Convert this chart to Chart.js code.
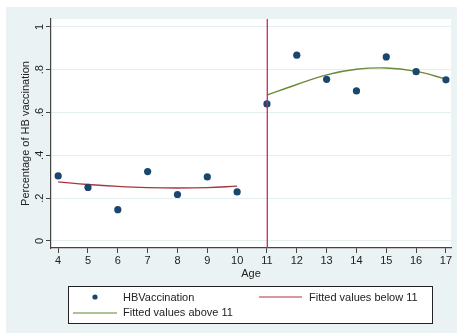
<!DOCTYPE html>
<html>
<head>
<meta charset="utf-8">
<script src="https://cdn.jsdelivr.net/npm/chart.js@4"></script>
<style>
  html, body { margin: 0; padding: 0; background: #ffffff; }
  #wrap { width: 457px; height: 333px; }
</style>
</head>
<body>
<div id="wrap"><canvas id="hbChart" width="457" height="333"></canvas></div>
<script>
// ---------------- DATA ----------------
const ages = [4, 5, 6, 7, 8, 9, 10, 11, 12, 13, 14, 15, 16, 17];
const hbVaccination = [0.304, 0.250, 0.146, 0.324, 0.217, 0.299, 0.229,
                       0.640, 0.868, 0.755, 0.701, 0.860, 0.791, 0.753];
const agesBelow = [4, 5, 6, 7, 8, 9, 10];
const fittedBelow = [0.276, 0.264, 0.255, 0.249, 0.247, 0.249, 0.256];
const agesAbove = [11, 12, 13, 14, 15, 16, 17];
const fittedAbove = [0.682, 0.731, 0.776, 0.802, 0.808, 0.792, 0.757];
const cutoff = 11;
const yTicks = [0, 0.2, 0.4, 0.6, 0.8, 1];
const yTickLabels = ["0", ".2", ".4", ".6", ".8", "1"];

const FONT = "'Liberation Sans', Arial, sans-serif";
const NAVY = "#1a476f";
const MAROON = "#a8363f";
const GREEN = "#6a8c3a";
const XLINE = "#d0285a";
const BG = "#eaf2f3";

const pts = (xs, ys) => xs.map((x, i) => ({ x: x, y: ys[i] }));

// ---------------- PLUGINS ----------------
const background = {
    id: "background",
    beforeDraw(chart) {
        const { ctx, chartArea: a } = chart;
        ctx.save();
        ctx.fillStyle = "#ffffff";
        ctx.fillRect(0, 0, chart.width, chart.height);
        ctx.fillStyle = BG;
        ctx.fillRect(6, 7, chart.width - 6, chart.height - 7);
        ctx.fillStyle = "#ffffff";
        ctx.fillRect(a.left, a.top, a.right - a.left, a.bottom - a.top);
        ctx.restore();
    }
};

// vertical line at the cutoff age
const cutoffLine = {
    id: "cutoffLine",
    afterDatasetsDraw(chart) {
        const { ctx, chartArea: a, scales } = chart;
        const x = Math.round(scales.x.getPixelForValue(cutoff)) + 0.3;
        ctx.save();
        ctx.strokeStyle = XLINE;
        ctx.lineWidth = 1.3;
        ctx.beginPath();
        ctx.moveTo(x, a.top);
        ctx.lineTo(x, a.bottom);
        ctx.stroke();
        ctx.restore();
    }
};

// y tick labels, turned sideways
const yLabels = {
    id: "yLabels",
    afterDraw(chart) {
        const { ctx, scales } = chart;
        ctx.save();
        ctx.fillStyle = "#222";
        ctx.font = "11px " + FONT;
        ctx.textAlign = "center";
        ctx.textBaseline = "middle";
        yTicks.forEach((v, i) => {
            const y = scales.y.getPixelForValue(v);
            ctx.save();
            ctx.translate(40, y);
            ctx.rotate(-Math.PI / 2);
            ctx.fillText(yTickLabels[i], 0, 0);
            ctx.restore();
        });
        ctx.restore();
    }
};

// boxed legend, two columns
const boxLegend = {
    id: "boxLegend",
    afterDraw(chart) {
        const { ctx } = chart;
        const ds = chart.data.datasets;
        ctx.save();
        ctx.fillStyle = "#ffffff";
        ctx.fillRect(68, 286, 364, 37);
        ctx.strokeStyle = "#222";
        ctx.lineWidth = 1;
        ctx.strokeRect(68.5, 286.5, 364, 37);
        ctx.font = "11px " + FONT;
        ctx.textBaseline = "middle";

        // scatter entry
        ctx.fillStyle = NAVY;
        ctx.beginPath();
        ctx.arc(95, 297, 2.6, 0, Math.PI * 2);
        ctx.fill();
        ctx.fillStyle = "#222";
        ctx.fillText(ds[0].label, 123, 297.5);

        // fitted below
        ctx.strokeStyle = "#cc7580";
        ctx.lineWidth = 1.6;
        ctx.beginPath();
        ctx.moveTo(259, 297);
        ctx.lineTo(302, 297);
        ctx.stroke();
        ctx.fillText(ds[1].label, 309, 297.5);

        // fitted above
        ctx.strokeStyle = "#93ad74";
        ctx.beginPath();
        ctx.moveTo(73, 313);
        ctx.lineTo(117, 313);
        ctx.stroke();
        ctx.fillText(ds[2].label, 123, 313);
        ctx.restore();
    }
};

// ---------------- CHART ----------------
new Chart(document.getElementById("hbChart"), {
    type: "scatter",
    data: {
        datasets: [
            {
                label: "HBVaccination",
                data: pts(ages, hbVaccination),
                backgroundColor: NAVY,
                borderColor: NAVY,
                borderWidth: 0,
                pointRadius: 3.6,
                pointHoverRadius: 3.6,
                showLine: false,
                order: 0
            },
            {
                label: "Fitted values below 11",
                data: pts(agesBelow, fittedBelow),
                borderColor: MAROON,
                borderWidth: 1.4,
                pointRadius: 0,
                showLine: true,
                tension: 0.4,
                order: 1
            },
            {
                label: "Fitted values above 11",
                data: pts(agesAbove, fittedAbove),
                borderColor: GREEN,
                borderWidth: 1.4,
                pointRadius: 0,
                showLine: true,
                tension: 0.4,
                order: 1
            }
        ]
    },
    options: {
        responsive: false,
        animation: false,
        events: [],
        layout: { padding: { left: 0, top: 19, right: 6, bottom: 52 } },
        plugins: {
            legend: { display: false },
            tooltip: { enabled: false }
        },
        scales: {
            x: {
                type: "linear",
                min: 3.76,
                max: 17.17,
                afterBuildTicks: s => { s.ticks = ages.map(v => ({ value: v })); },
                afterFit: s => { s.height = 33; },
                border: { color: "#444", width: 1.2 },
                grid: { drawOnChartArea: false, drawTicks: true, tickLength: 5, tickColor: "#444" },
                ticks: { color: "#222", font: { family: FONT, size: 11 }, padding: 1, maxRotation: 0 },
                title: {
                    display: true,
                    text: "Age",
                    color: "#222",
                    font: { family: FONT, size: 11 },
                    padding: { top: 0, bottom: 0 }
                }
            },
            y: {
                min: -0.033,
                max: 1.037,
                afterBuildTicks: s => { s.ticks = yTicks.map(v => ({ value: v })); },
                afterFit: s => { s.width = 51; },
                border: { color: "#444", width: 1.2 },
                grid: { color: "#e4eeef", lineWidth: 1, drawTicks: true, tickLength: 5, tickColor: "#444" },
                ticks: { color: "rgba(0,0,0,0)", font: { family: FONT, size: 11 } },
                title: {
                    display: true,
                    text: "Percentage of HB vaccination",
                    color: "#222",
                    font: { family: FONT, size: 11 },
                    padding: { top: 19, bottom: 0 }
                }
            }
        }
    },
    plugins: [background, cutoffLine, yLabels, boxLegend]
});
</script>
</body>
</html>
